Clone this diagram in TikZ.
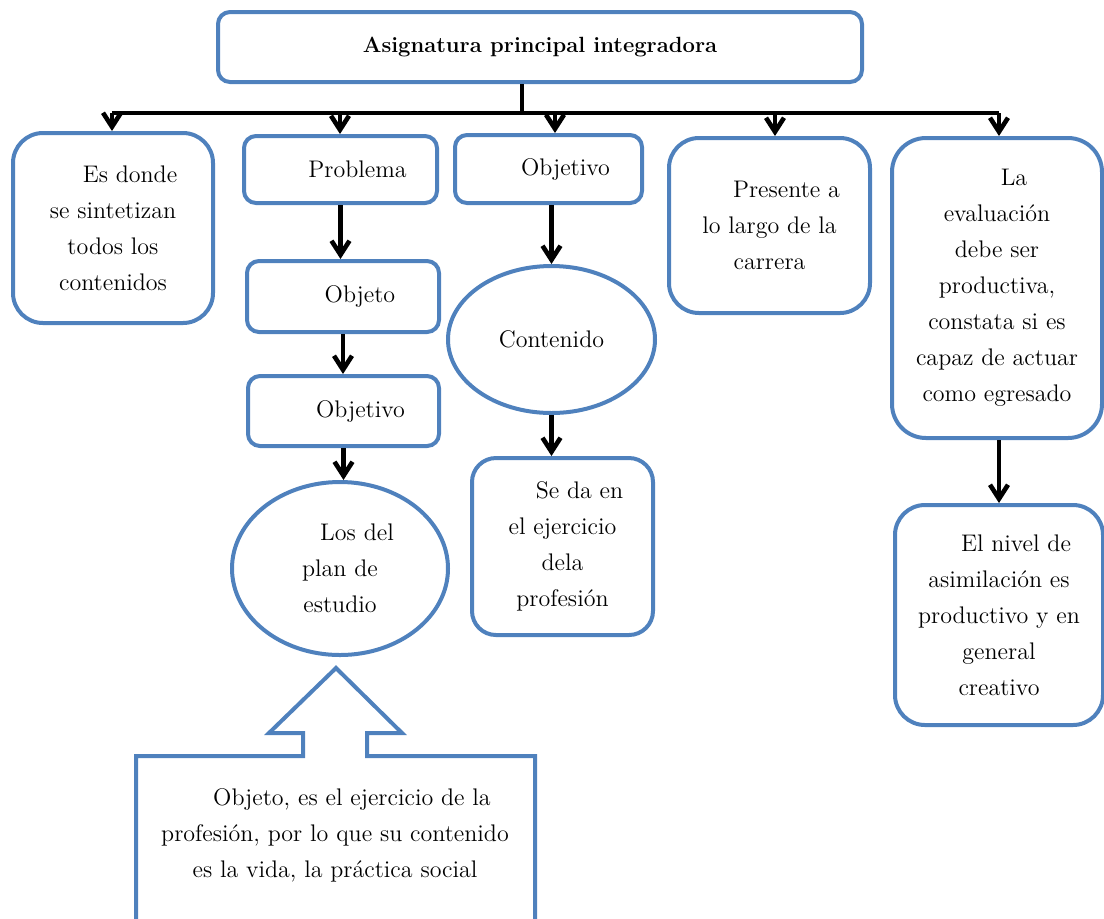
\documentclass[tikz,border=0pt]{standalone}
\usetikzlibrary{arrows.meta,shapes.geometric}
\definecolor{boxblue}{HTML}{4F81BD}
\newcommand{\ind}{\hspace*{17pt}}

\begin{document}
\begin{tikzpicture}[
  x=0.5pt, y=-0.5pt,
  every node/.style={
    font=\fontsize{12}{18}\selectfont, align=center, inner sep=0pt,
  },
  box/.style={
    draw=boxblue, line width=2pt, rounded corners=#1,
  },
  box/.default=6pt,
  oval/.style={
    ellipse, draw=boxblue, line width=2pt,
  },
  bar/.style={
    line width=2.2pt,
  },
  link/.style={
    line width=2.3pt, -{Straight Barb[length=7pt,width=9pt,line width=2.3pt]},
  }
  ]
  \useasboundingbox (0,0) rectangle (1104,918);

  \node[box, minimum width=322pt, minimum height=35pt,
    font=\fontsize{11}{18}\selectfont\bfseries] (top) at (540,47)
    {Asignatura principal integradora};

  \node[box=15pt, minimum width=100pt, minimum height=95pt] (sint) at (113,228)
    {\ind Es donde\\ se sintetizan\\ todos los\\ contenidos};
  \node[box, minimum width=96.5pt, minimum height=33.5pt] (prob) at (340.5,169.5)
    {\ind Problema};
  \node[box, minimum width=96pt, minimum height=35.5pt] (objt) at (343,296.5)
    {\ind Objeto};
  \node[box, minimum width=95.5pt, minimum height=35pt] (objv) at (343.5,411)
    {\ind Objetivo};
  \node[oval, minimum width=108pt, minimum height=86.5pt] (plan) at (340,568.5)
    {\ind Los del\\ plan de\\ estudio};
  \node[box, minimum width=93.5pt, minimum height=34pt] (meta) at (548.5,169)
    {\ind Objetivo};
  \node[oval, minimum width=103.5pt, minimum height=73.5pt] (cont) at (551.5,339.5)
    {Contenido};
  \node[box=12pt, minimum width=90.5pt, minimum height=88.5pt] (ejer) at (562.5,546.5)
    {\ind Se da en\\ el ejercicio\\ dela\\ profesión};
  \node[box=15pt, minimum width=100.5pt, minimum height=87.5pt] (pres) at (769.5,225.5)
    {\ind Presente a\\ lo largo de la\\ carrera};
  \node[box=17pt, minimum width=105pt, minimum height=150pt] (eval) at (997,288)
    {\ind La\\ evaluación\\ debe ser\\ productiva,\\ constata si es\\ capaz de actuar\\ como egresado};
  \node[box=15pt, minimum width=104pt, minimum height=110pt] (nivel) at (999,615)
    {\ind El nivel de\\ asimilación es\\ productivo y en\\ general\\ creativo};

  \draw[boxblue, line width=2pt]
    (136,922) -- (136,756) -- (303,756) -- (303,733) -- (269,733) -- (336,668)
    -- (402,733) -- (367,733) -- (367,756) -- (535,756) -- (535,922);
  \node (obje) at (335,835)
    {\ind Objeto, es el ejercicio de la\\ profesión, por lo que su contenido\\ es la vida, la práctica social};

  \coordinate (hub) at (522,113);
  \foreach \n/\x in {1/112,2/340,3/555,4/775,5/999}
    \coordinate (b\n) at (\x,113);
  \draw[bar] (hub |- top.south) -- (hub);
  \draw[bar] (b1) -- (b5);
  \foreach \n/\t in {1/sint,2/prob,3/meta,4/pres,5/eval}
    \draw[link] (b\n) -- (b\n |- \t.north);

  \draw[link] (prob.south) -- (prob.south |- objt.north);
  \draw[link] (objt.south) -- (objt.south |- objv.north);
  \draw[link] (objv.south) -- (objv.south |- plan.north);
  \draw[link] (cont.north |- meta.south) -- (cont.north);
  \draw[link] (cont.south) -- (cont.south |- ejer.north);
  \draw[link] (nivel.north |- eval.south) -- (nivel.north);
\end{tikzpicture}
\end{document}
